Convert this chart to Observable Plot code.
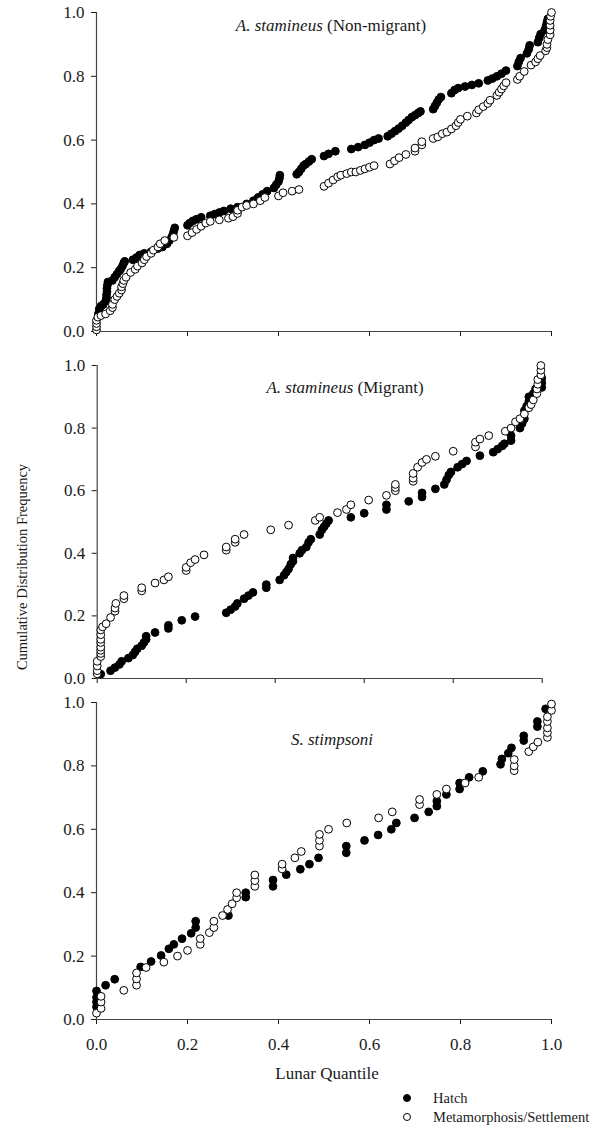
<!DOCTYPE html>
<html><head><meta charset="utf-8">
<script src="https://cdn.jsdelivr.net/npm/d3@7"></script>
<script src="https://cdn.jsdelivr.net/npm/@observablehq/plot@0.6"></script>
<style>
body{margin:0;background:#fff;}
#wrap{position:relative;width:596px;height:1129px;font-family:"Liberation Serif","Times New Roman",serif;color:#1a1a1a;overflow:hidden;}
#wrap svg{position:absolute;left:0;font-family:"Liberation Serif","Times New Roman",serif !important;}
#wrap svg text{font-family:"Liberation Serif","Times New Roman",serif !important;font-size:17px !important;fill:#1a1a1a;}
.abs{position:absolute;white-space:nowrap;line-height:1;}
</style></head><body><div id="wrap"></div>
<script>
// ---- data ----
const xTicks = [0, 0.2, 0.4, 0.6, 0.8, 1.0];
const yTicks = [0, 0.2, 0.4, 0.6, 0.8, 1.0];
const seriesNames = ["Hatch", "Metamorphosis/Settlement"];

// Panel 1: A. stamineus (Non-migrant)
const p1Hatch = [[0.004,0.055],[0.006,0.07],[0.01,0.08],[0.015,0.085],[0.02,0.095],[0.022,0.105],[0.022,0.115],[0.023,0.125],[0.023,0.135],[0.024,0.145],[0.025,0.155],[0.035,0.16],[0.04,0.17],[0.045,0.18],[0.05,0.19],[0.053,0.195],[0.057,0.205],[0.06,0.215],[0.062,0.22],[0.08,0.225],[0.088,0.232],[0.095,0.24],[0.105,0.245],[0.12,0.25],[0.135,0.26],[0.145,0.265],[0.155,0.275],[0.16,0.285],[0.165,0.295],[0.168,0.305],[0.17,0.315],[0.172,0.325],[0.2,0.333],[0.205,0.34],[0.212,0.347],[0.22,0.352],[0.23,0.358],[0.25,0.363],[0.26,0.368],[0.27,0.373],[0.28,0.378],[0.295,0.385],[0.31,0.39],[0.33,0.40],[0.345,0.41],[0.355,0.42],[0.365,0.43],[0.375,0.44],[0.39,0.45],[0.395,0.46],[0.4,0.47],[0.402,0.48],[0.403,0.49],[0.44,0.493],[0.445,0.50],[0.45,0.51],[0.455,0.52],[0.46,0.525],[0.467,0.533],[0.473,0.54],[0.50,0.55],[0.51,0.557],[0.525,0.565],[0.56,0.572],[0.575,0.578],[0.59,0.585],[0.60,0.592],[0.61,0.60],[0.62,0.605],[0.64,0.612],[0.648,0.62],[0.656,0.628],[0.664,0.636],[0.672,0.645],[0.68,0.655],[0.686,0.663],[0.693,0.672],[0.70,0.678],[0.707,0.685],[0.712,0.69],[0.74,0.697],[0.744,0.707],[0.748,0.717],[0.752,0.727],[0.757,0.735],[0.78,0.747],[0.787,0.757],[0.795,0.763],[0.81,0.768],[0.825,0.773],[0.84,0.778],[0.86,0.787],[0.87,0.793],[0.88,0.80],[0.89,0.808],[0.90,0.818],[0.925,0.832],[0.928,0.845],[0.932,0.857],[0.946,0.872],[0.95,0.885],[0.952,0.897],[0.97,0.907],[0.973,0.92],[0.976,0.932],[0.985,0.945],[0.988,0.958],[0.99,0.97],[0.992,0.98]];
const p1Settle = [[0,0.005],[0,0.015],[0,0.025],[0,0.035],[0.003,0.045],[0.01,0.05],[0.02,0.055],[0.03,0.065],[0.035,0.075],[0.035,0.085],[0.04,0.10],[0.045,0.11],[0.05,0.12],[0.055,0.13],[0.055,0.14],[0.058,0.15],[0.06,0.16],[0.065,0.17],[0.075,0.185],[0.085,0.195],[0.09,0.205],[0.1,0.215],[0.105,0.225],[0.11,0.235],[0.12,0.245],[0.125,0.255],[0.135,0.265],[0.14,0.275],[0.15,0.285],[0.17,0.295],[0.2,0.30],[0.21,0.31],[0.22,0.32],[0.23,0.33],[0.24,0.34],[0.25,0.345],[0.27,0.35],[0.29,0.355],[0.30,0.36],[0.31,0.37],[0.31,0.38],[0.32,0.39],[0.33,0.395],[0.345,0.40],[0.36,0.41],[0.37,0.42],[0.40,0.425],[0.41,0.435],[0.43,0.44],[0.445,0.445],[0.50,0.455],[0.51,0.465],[0.52,0.475],[0.53,0.485],[0.537,0.49],[0.55,0.495],[0.56,0.50],[0.57,0.50],[0.58,0.505],[0.59,0.51],[0.60,0.515],[0.61,0.52],[0.645,0.525],[0.655,0.535],[0.665,0.545],[0.68,0.555],[0.70,0.565],[0.70,0.575],[0.715,0.585],[0.715,0.595],[0.74,0.605],[0.75,0.61],[0.76,0.62],[0.77,0.625],[0.78,0.635],[0.79,0.645],[0.795,0.655],[0.80,0.665],[0.815,0.675],[0.835,0.685],[0.84,0.695],[0.85,0.705],[0.86,0.715],[0.865,0.725],[0.88,0.74],[0.885,0.75],[0.89,0.76],[0.895,0.77],[0.90,0.78],[0.925,0.79],[0.93,0.80],[0.94,0.815],[0.955,0.835],[0.965,0.845],[0.97,0.855],[0.975,0.865],[0.987,0.88],[0.99,0.89],[0.99,0.90],[0.992,0.915],[0.997,0.93],[0.997,0.945],[0.997,0.96],[0.997,0.975],[0.998,0.988],[1.0,1.0]];

// Panel 2: A. stamineus (Migrant)
const p2Hatch = [[0.008,0.014],[0.03,0.025],[0.04,0.035],[0.05,0.045],[0.055,0.055],[0.07,0.065],[0.08,0.075],[0.085,0.085],[0.09,0.095],[0.10,0.105],[0.105,0.115],[0.11,0.125],[0.11,0.135],[0.13,0.147],[0.16,0.16],[0.16,0.17],[0.19,0.186],[0.22,0.198],[0.29,0.21],[0.30,0.22],[0.31,0.23],[0.315,0.24],[0.33,0.255],[0.34,0.265],[0.35,0.275],[0.38,0.29],[0.38,0.30],[0.41,0.315],[0.42,0.33],[0.425,0.34],[0.43,0.35],[0.435,0.365],[0.44,0.375],[0.44,0.385],[0.455,0.40],[0.46,0.41],[0.47,0.42],[0.475,0.435],[0.48,0.445],[0.50,0.46],[0.505,0.475],[0.51,0.485],[0.515,0.495],[0.52,0.505],[0.57,0.515],[0.60,0.528],[0.65,0.54],[0.65,0.555],[0.70,0.566],[0.73,0.58],[0.73,0.593],[0.76,0.606],[0.78,0.62],[0.785,0.635],[0.79,0.65],[0.795,0.66],[0.81,0.675],[0.82,0.685],[0.83,0.695],[0.86,0.712],[0.89,0.723],[0.90,0.733],[0.91,0.743],[0.915,0.75],[0.93,0.76],[0.93,0.776],[0.95,0.80],[0.955,0.815],[0.96,0.83],[0.96,0.856],[0.965,0.87],[0.97,0.885],[0.97,0.90],[0.98,0.91],[0.985,0.925],[0.999,0.93],[0.999,0.945],[0.999,0.96]];
const p2Settle = [[0.0,0.015],[0.0,0.025],[0.0,0.04],[0.0,0.055],[0.008,0.07],[0.008,0.08],[0.008,0.09],[0.008,0.10],[0.008,0.115],[0.008,0.125],[0.008,0.14],[0.008,0.155],[0.012,0.165],[0.02,0.175],[0.03,0.195],[0.04,0.215],[0.04,0.225],[0.042,0.24],[0.06,0.255],[0.06,0.265],[0.10,0.28],[0.10,0.29],[0.13,0.305],[0.15,0.315],[0.16,0.325],[0.20,0.345],[0.20,0.355],[0.21,0.37],[0.22,0.38],[0.24,0.395],[0.29,0.41],[0.29,0.42],[0.31,0.435],[0.31,0.445],[0.33,0.46],[0.39,0.475],[0.43,0.49],[0.49,0.505],[0.50,0.515],[0.54,0.53],[0.56,0.54],[0.57,0.555],[0.61,0.57],[0.65,0.585],[0.67,0.60],[0.67,0.61],[0.67,0.62],[0.71,0.63],[0.71,0.64],[0.71,0.655],[0.72,0.675],[0.73,0.69],[0.74,0.70],[0.76,0.71],[0.80,0.726],[0.85,0.74],[0.85,0.755],[0.86,0.765],[0.88,0.776],[0.917,0.79],[0.93,0.80],[0.94,0.82],[0.95,0.83],[0.96,0.845],[0.97,0.865],[0.975,0.875],[0.98,0.89],[0.988,0.91],[0.988,0.925],[0.99,0.94],[0.99,0.955],[0.997,0.97],[0.997,0.985],[0.997,1.0]];

// Panel 3: S. stimpsoni
const p3Hatch = [[0,0.04],[0,0.055],[0,0.07],[0,0.09],[0.02,0.108],[0.04,0.127],[0.097,0.166],[0.12,0.183],[0.142,0.202],[0.159,0.223],[0.17,0.237],[0.188,0.255],[0.208,0.272],[0.218,0.29],[0.218,0.31],[0.29,0.328],[0.328,0.386],[0.328,0.40],[0.388,0.42],[0.388,0.44],[0.417,0.457],[0.448,0.474],[0.468,0.49],[0.488,0.51],[0.549,0.526],[0.549,0.547],[0.589,0.565],[0.619,0.582],[0.648,0.60],[0.659,0.62],[0.699,0.636],[0.73,0.655],[0.748,0.673],[0.748,0.689],[0.769,0.71],[0.798,0.727],[0.798,0.746],[0.819,0.764],[0.849,0.783],[0.888,0.805],[0.891,0.822],[0.905,0.84],[0.912,0.857],[0.939,0.88],[0.939,0.895],[0.969,0.924],[0.969,0.94],[0.987,0.98]];
const p3Settle = [[0,0.02],[0.01,0.035],[0.01,0.055],[0.01,0.073],[0.06,0.092],[0.088,0.108],[0.088,0.128],[0.088,0.147],[0.109,0.164],[0.148,0.181],[0.178,0.20],[0.2,0.218],[0.228,0.237],[0.228,0.255],[0.248,0.274],[0.258,0.29],[0.258,0.31],[0.277,0.328],[0.288,0.347],[0.298,0.365],[0.308,0.384],[0.308,0.40],[0.348,0.42],[0.348,0.438],[0.348,0.456],[0.408,0.475],[0.408,0.49],[0.436,0.51],[0.45,0.53],[0.49,0.547],[0.49,0.565],[0.49,0.584],[0.51,0.60],[0.55,0.62],[0.62,0.636],[0.65,0.655],[0.71,0.678],[0.71,0.694],[0.748,0.71],[0.769,0.727],[0.81,0.746],[0.84,0.764],[0.918,0.785],[0.918,0.80],[0.918,0.82],[0.95,0.845],[0.96,0.86],[0.97,0.875],[0.991,0.89],[0.991,0.905],[0.991,0.92],[0.991,0.94],[0.991,0.955],[1.0,0.975],[1.0,0.995]];

const titles = [
  {it: "A. stamineus", rest: " (Non-migrant)"},
  {it: "A. stamineus", rest: " (Migrant)"},
  {it: "S. stimpsoni", rest: ""}
];

// ---- drawing ----
const wrap = document.getElementById("wrap");
const fmt = d3.format(".1f");

function panel(o) {
  const svg = Plot.plot({
    width: 596, height: o.height,
    marginTop: o.mt, marginBottom: o.mb, marginLeft: o.ml, marginRight: o.mr,
    style: {fontFamily: "Liberation Serif", fontSize: "17px", background: "transparent", color: "#1a1a1a", overflow: "visible"},
    x: {domain: [0, 1], ticks: xTicks, tickFormat: o.showX ? fmt : () => "", tickSize: 5, tickPadding: 13, label: null},
    y: {domain: [0, 1], ticks: yTicks, tickFormat: fmt, tickSize: 5, tickPadding: 7, label: null},
    marks: [
      Plot.ruleX([0], {y1: 0, y2: 1, stroke: "#444", strokeWidth: 1.2}),
      Plot.ruleY([0], {x1: 0, x2: 1, stroke: "#444", strokeWidth: 1.2}),
      Plot.dot(o.hatch, {x: d => d[0], y: d => d[1], r: 3.9, fill: "black", stroke: "black", strokeWidth: 1}),
      Plot.dot(o.settle, {x: d => d[0], y: d => d[1], r: 3.9, fill: "white", stroke: "black", strokeWidth: 1})
    ]
  });
  svg.style.top = o.top + "px";
  wrap.appendChild(svg);
}

panel({top: 0, height: 345, mt: 12, mb: 14, ml: 96, mr: 45, hatch: p1Hatch, settle: p1Settle, showX: false});
panel({top: 345, height: 345, mt: 20, mb: 12, ml: 96.7, mr: 54.3, hatch: p2Hatch, settle: p2Settle, showX: false});
panel({top: 690, height: 439, mt: 12, mb: 110, ml: 96, mr: 45, hatch: p3Hatch, settle: p3Settle, showX: true});

function addText(html, x, y, size, extra) {
  const d = document.createElement("div");
  d.className = "abs";
  d.innerHTML = html;
  d.style.left = x + "px";
  d.style.top = y + "px";
  d.style.fontSize = size + "px";
  d.style.transform = "translate(-50%,-50%)" + (extra || "");
  wrap.appendChild(d);
  return d;
}

const titlePos = [[331, 25], [345, 387], [332, 739]];
titles.forEach((t, i) => addText(`<i>${t.it}</i>${t.rest}`, titlePos[i][0], titlePos[i][1], 17));

addText("Cumulative Distribution Frequency", 22, 567, 14.5, " rotate(-90deg)");
addText("Lunar Quantile", 327, 1073, 17);

// legend
const legendRows = [[1098, "black"], [1117, "white"]];
legendRows.forEach(([y, fill], i) => {
  const c = document.createElement("div");
  c.style.cssText = `position:absolute;left:${407-4.2}px;top:${y-4.2}px;width:6.4px;height:6.4px;border-radius:50%;background:${fill};border:1px solid black;`;
  wrap.appendChild(c);
  const t = document.createElement("div");
  t.className = "abs";
  t.textContent = seriesNames[i];
  t.style.cssText += `left:433px;top:${y}px;font-size:14.5px;transform:translateY(-50%);`;
  wrap.appendChild(t);
});
</script>
</body></html>
